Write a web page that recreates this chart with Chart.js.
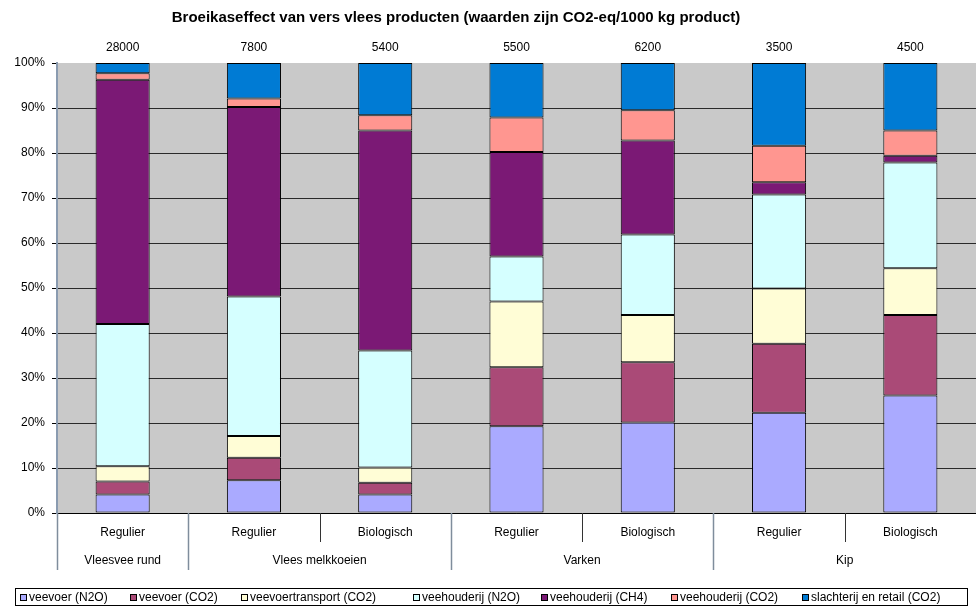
<!DOCTYPE html>
<html><head><meta charset="utf-8">
<script src="https://cdn.jsdelivr.net/npm/chart.js@4.4.0/dist/chart.umd.min.js"></script>
<style>html,body{margin:0;padding:0;background:#fff}#wrap{width:976px;height:606px;position:relative}</style>
</head><body><div id="wrap"><canvas id="c" width="976" height="606"></canvas></div>
<script>
const chartTitle = 'Broeikaseffect van vers vlees producten (waarden zijn CO2-eq/1000 kg product)';
const categories = ['Regulier','Regulier','Biologisch','Regulier','Biologisch','Regulier','Biologisch'];
const groups = ['Vleesvee rund','Vlees melkkoeien','Varken','Kip'];
const groupSizes = [1,2,2,2];
const totals = ['28000','7800','5400','5500','6200','3500','4500'];
const seriesNames = ['veevoer (N2O)','veevoer (CO2)','veevoertransport (CO2)','veehouderij (N2O)','veehouderij (CH4)','veehouderij (CO2)','slachterij en retail (CO2)'];
const veevoerN2O     = [4.1, 7.3, 4.1, 19.3, 20.1, 22.3, 26.1];
const veevoerCO2     = [2.9, 5.0, 2.6, 13.1, 13.4, 15.3, 17.9];
const transportCO2   = [3.4, 4.8, 3.4, 14.6, 10.5, 12.3, 10.4];
const veehouderijN2O = [31.6, 31.0, 26.0, 10.0, 17.9, 20.9, 23.5];
const veehouderijCH4 = [54.3, 42.1, 48.9, 23.2, 20.9, 2.7, 1.5];
const veehouderijCO2 = [1.4, 1.9, 3.4, 7.7, 6.7, 8.1, 5.6];
const slachterijCO2  = [2.3, 7.9, 11.6, 12.1, 10.5, 18.4, 15.0];
const seriesColors = ['#AAAAFF','#AA4A77','#FFFDD6','#D5FFFF','#7B1975','#FF9690','#007BD4'];
const seriesValues = [veevoerN2O, veevoerCO2, transportCO2, veehouderijN2O, veehouderijCH4, veehouderijCO2, slachterijCO2];

const FONT = '"Liberation Sans", Arial, sans-serif';
const legendX = [20,130,241,413,541,671,802];

const decor = {
  id: 'decor',
  beforeDraw(chart) {
    const {ctx, chartArea: a} = chart;
    ctx.save();
    ctx.fillStyle = '#C9C9C9';
    ctx.fillRect(a.left, a.top, a.right - a.left, a.bottom - a.top);
    ctx.restore();
  },
  afterDraw(chart) {
    const {ctx, chartArea: a} = chart;
    const xs = chart.scales.x;
    ctx.save();
    // title
    ctx.fillStyle = '#000';
    ctx.font = 'bold 15px ' + FONT;
    ctx.textAlign = 'center';
    ctx.textBaseline = 'middle';
    ctx.fillText(chartTitle, 456, 18);
    // totals
    ctx.font = '12px ' + FONT;
    categories.forEach((c, i) => ctx.fillText(totals[i], xs.getPixelForValue(i), 48));
    // x axis line
    ctx.strokeStyle = '#000';
    ctx.lineWidth = 1;
    ctx.beginPath(); ctx.moveTo(a.left, a.bottom + 0.5); ctx.lineTo(a.right, a.bottom + 0.5); ctx.stroke();
    // separators
    const bound = i => i === 0 ? a.left : (xs.getPixelForValue(i - 1) + xs.getPixelForValue(i)) / 2;
    const groupStarts = new Set();
    let acc = 0; groupSizes.forEach(s => { groupStarts.add(acc); acc += s; });
    for (let i = 0; i < categories.length; i++) {
      const x = Math.round(bound(i)) + 0.5;
      const isGroup = groupStarts.has(i);
      ctx.strokeStyle = isGroup ? '#7f8d9c' : '#333';
      ctx.lineWidth = isGroup ? 1.5 : 1;
      ctx.beginPath(); ctx.moveTo(x, a.bottom); ctx.lineTo(x, isGroup ? 570 : 542); ctx.stroke();
    }
    // row labels
    ctx.fillStyle = '#000';
    ctx.font = '12px ' + FONT;
    categories.forEach((c, i) => ctx.fillText(c, xs.getPixelForValue(i), 533));
    acc = 0;
    groups.forEach((g, gi) => {
      const x0 = bound(acc);
      const end = acc + groupSizes[gi];
      const x1 = end >= categories.length ? a.right : bound(end);
      ctx.fillText(g, (x0 + x1) / 2, 561);
      acc = end;
    });
    // legend
    ctx.strokeStyle = '#000';
    ctx.lineWidth = 1;
    ctx.strokeRect(15.5, 588.5, 952, 17);
    ctx.textAlign = 'left';
    seriesNames.forEach((n, i) => {
      const x = legendX[i];
      ctx.fillStyle = seriesColors[i];
      ctx.fillRect(x + 0.5, 594.5, 6, 6);
      ctx.strokeStyle = '#000';
      ctx.strokeRect(x + 0.5, 594.5, 6, 6);
      ctx.fillStyle = '#000';
      ctx.fillText(n, x + 9, 597.5);
    });
    ctx.restore();
  }
};

new Chart(document.getElementById('c'), {
  type: 'bar',
  data: {
    labels: categories,
    datasets: seriesNames.map((n, i) => ({
      label: n,
      data: seriesValues[i],
      backgroundColor: seriesColors[i],
      borderColor: '#000',
      borderWidth: 1,
      borderSkipped: false,
      barPercentage: 1,
      categoryPercentage: 0.412
    }))
  },
  options: {
    responsive: false,
    animation: false,
    layout: { padding: { top: 63, left: 0, right: 0, bottom: 0 } },
    plugins: { legend: { display: false }, title: { display: false }, tooltip: { enabled: false } },
    scales: {
      x: {
        stacked: true,
        ticks: { display: false },
        grid: { display: false },
        border: { display: false },
        afterFit: s => { s.height = 93; }
      },
      y: {
        stacked: true,
        min: 0, max: 100,
        ticks: { stepSize: 10, callback: v => v + '%', color: '#000', font: { family: FONT, size: 12 }, padding: 7 },
        grid: {
          color: ctx => ctx.tick && ctx.tick.value === 100 ? 'rgba(0,0,0,0)' : '#2a2a2a',
          tickColor: '#000',
          tickLength: 5,
          lineWidth: 1
        },
        border: { display: true, color: '#8a9bb0', width: 2 },
        afterFit: s => { s.width = 57; }
      }
    }
  },
  plugins: [decor]
});
</script>
</body></html>
